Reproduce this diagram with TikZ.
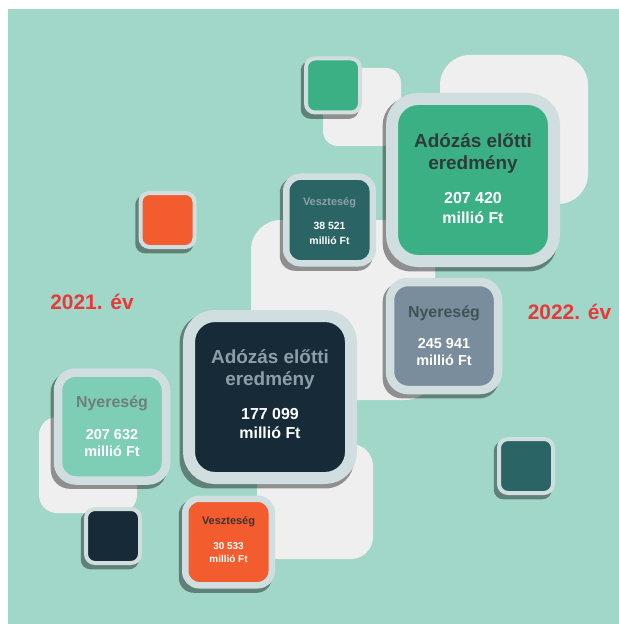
\documentclass[tikz,border=0pt]{standalone}
\usepackage{fontspec}
\setmainfont{Liberation Sans}
\usetikzlibrary{shadows, calc, positioning}

\definecolor{bgTeal}{HTML}{A1D7C8}
\definecolor{backGrey}{HTML}{EFEFEF}
\definecolor{tileEdge}{HTML}{D0DEDF}
\definecolor{tileGreen}{HTML}{3BB084}
\definecolor{tileTeal}{HTML}{2A6465}
\definecolor{tileNavy}{HTML}{172A37}
\definecolor{tileOrange}{HTML}{F25C2E}
\definecolor{tileMint}{HTML}{7ECDB5}
\definecolor{tileSlate}{HTML}{7A8D9C}
\definecolor{yearRed}{HTML}{E8383A}
\definecolor{txtGreen}{HTML}{2F3B3B}
\definecolor{txtTeal}{HTML}{8BA3A6}
\definecolor{txtSlate}{HTML}{3F5357}
\definecolor{txtNavy}{HTML}{8E9DAA}
\definecolor{txtMint}{HTML}{6E7E7C}
\definecolor{txtOrange}{HTML}{3A3535}

\tikzset{
    tile/.style={draw=tileEdge, inner sep=0pt, drop shadow={shadow xshift=-3bp, shadow yshift=-4bp, shadow scale=1.075, opacity=0.4, fill=black}},
    tileSmall/.style={tile, rounded corners=9bp, minimum size=54bp, line width=4bp},
    tileMid/.style={tile, rounded corners=14bp, minimum size=86.5bp, line width=6.5bp},
    tileLarge/.style={tile, rounded corners=18bp, minimum size=108bp, line width=8.5bp},
    tileBig/.style={tile, rounded corners=26bp, minimum size=162bp, line width=12bp},
    backRect/.style={fill=backGrey},
    tileTitle/.style={align=center, inner sep=0pt, font=\bfseries\fontsize{19}{23}\selectfont},
    midTitle/.style={tileTitle, font=\bfseries\fontsize{16}{19}\selectfont},
    smallTitle/.style={tileTitle, font=\bfseries\fontsize{11}{13}\selectfont},
    tileNum/.style={align=center, inner sep=0pt, text=white, font=\bfseries\fontsize{16}{20}\selectfont},
    midNum/.style={tileNum, font=\bfseries\fontsize{14.5}{18}\selectfont},
    smallNum/.style={tileNum, font=\bfseries\fontsize{10.5}{14.5}\selectfont},
    yearLabel/.style={text=yearRed, font=\bfseries\fontsize{21}{25}\selectfont},
}

\begin{document}
\begin{tikzpicture}[x=1bp, y=-1bp]

    \useasboundingbox (0,0) rectangle (619,624);
    \fill[bgTeal] (8,9) rectangle (619,624);

    % back plates
    \fill[backRect, rounded corners=15bp] (323,68) rectangle (401,146);
    \fill[backRect, rounded corners=30bp] (440,55) rectangle (588,204);
    \fill[backRect, rounded corners=30bp] (251,220) rectangle (435,400);
    \fill[backRect, rounded corners=18bp] (39,417) rectangle (137,513);
    \fill[backRect, rounded corners=22bp] (257,444) rectangle (373,559);

    % 2022
    \node[tileSmall, fill=tileGreen] (sqGreen) at (333,85.5) {};
    \node[tileBig, fill=tileGreen] (eb22) at (473,180) {};
    \node[tileTitle, text=txtGreen] (eb22t) at ($(eb22)+(0,-26.5)$) {Adózás előtti\\eredmény};
    \node[tileNum] (eb22n) at ($(eb22)+(0,28)$) {207 420\\millió Ft};

    \node[tileMid, fill=tileTeal] (vs22) at (329.5,220) {};
    \node[smallTitle, text=txtTeal] (vs22t) at ($(vs22)+(0,-17)$) {Veszteség};
    \node[smallNum] (vs22n) at ($(vs22)+(0,13.5)$) {38 521\\millió Ft};

    \node[tileLarge, fill=tileSlate] (ny22) at (444,336) {};
    \node[midTitle, text=txtSlate] (ny22t) at ($(ny22)+(0,-23)$) {Nyereség};
    \node[midNum] (ny22n) at ($(ny22)+(0,16)$) {245 941\\millió Ft};

    \node[tileSmall, fill=tileTeal] (sqTeal) at (526,466) {};
    \node[yearLabel] (y22) at (569.5,312) {2022. év};

    % 2021
    \node[tileSmall, fill=tileOrange] (sqOrange) at (167.5,220) {};
    \node[tileBig, fill=tileNavy] (eb21) at (270,397) {};
    \node[tileTitle, text=txtNavy] (eb21t) at ($(eb21)+(0,-27.5)$) {Adózás előtti\\eredmény};
    \node[tileNum] (eb21n) at ($(eb21)+(0,26.5)$) {177 099\\millió Ft};

    \node[tileLarge, fill=tileMint] (ny21) at (112,426.5) {};
    \node[midTitle, text=txtMint] (ny21t) at ($(ny21)+(0,-23.5)$) {Nyereség};
    \node[midNum] (ny21n) at ($(ny21)+(0,16.5)$) {207 632\\millió Ft};

    \node[tileSmall, fill=tileNavy] (sqNavy) at (113,536) {};

    \node[tileMid, fill=tileOrange] (vs21) at (228.5,542) {};
    \node[smallTitle, text=txtOrange] (vs21t) at ($(vs21)+(0,-20)$) {Veszteség};
    \node[smallNum, font=\bfseries\fontsize{10}{13}\selectfont] (vs21n) at ($(vs21)+(0,10.5)$) {30 533\\millió Ft};

    \node[yearLabel] (y21) at (92,302) {2021. év};

\end{tikzpicture}
\end{document}
